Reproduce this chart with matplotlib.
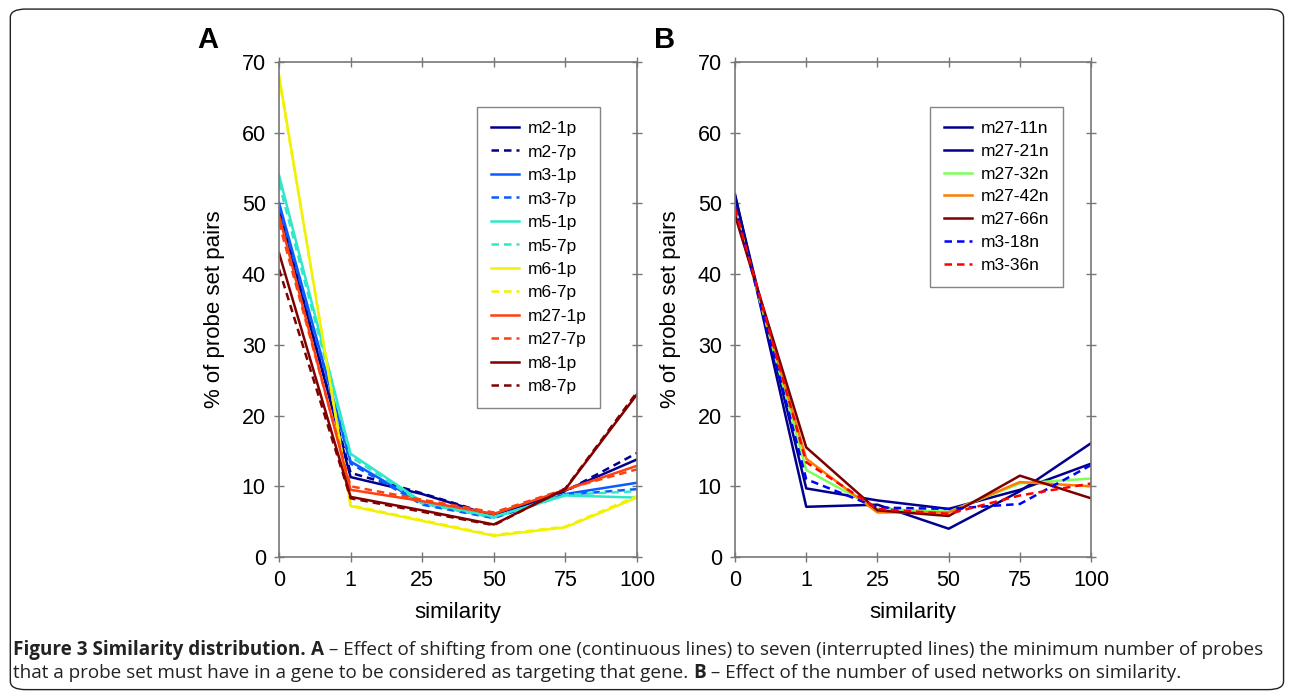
import matplotlib
matplotlib.use("Agg")
import matplotlib.pyplot as plt
from matplotlib.patches import FancyBboxPatch

plt.rcParams["font.family"] = ["Liberation Sans", "DejaVu Sans"]

similarity = ["0", "1", "25", "50", "75", "100"]

# panel A: one probe (solid) vs seven probes (dashed)
labels_a = ["m2-1p", "m2-7p", "m3-1p", "m3-7p", "m5-1p", "m5-7p",
            "m6-1p", "m6-7p", "m27-1p", "m27-7p", "m8-1p", "m8-7p"]
m2_1p = [49.3, 11.3, 8.9, 5.8, 9.4, 13.8]
m2_7p = [48.8, 11.9, 9.0, 5.9, 9.3, 14.7]
m3_1p = [50.1, 13.5, 7.6, 5.6, 8.9, 10.5]
m3_7p = [49.6, 13.2, 7.4, 5.5, 8.8, 9.6]
m5_1p = [54.0, 14.6, 7.8, 5.7, 8.7, 8.4]
m5_7p = [52.9, 14.2, 7.6, 5.6, 8.8, 9.3]
m6_1p = [68.1, 7.2, 5.1, 3.0, 4.2, 8.4]
m6_7p = [67.8, 7.3, 5.2, 3.1, 4.3, 8.6]
m27_1p = [48.3, 9.5, 7.9, 6.1, 9.5, 12.9]
m27_7p = [47.3, 10.0, 8.1, 6.3, 9.6, 12.4]
m8_1p = [43.0, 8.5, 6.6, 4.6, 9.6, 23.0]
m8_7p = [40.7, 8.3, 6.4, 4.5, 9.7, 23.3]
colors_a = ["#00008c", "#00008c", "#0a5cff", "#0a5cff", "#2ee8c8", "#2ee8c8",
            "#f2f200", "#f2f200", "#ff4010", "#ff4010", "#800000", "#800000"]

# panel B: number of networks
labels_b = ["m27-11n", "m27-21n", "m27-32n", "m27-42n", "m27-66n", "m3-18n", "m3-36n"]
m27_11n = [51.3, 7.1, 7.4, 4.0, 9.3, 16.1]
m27_21n = [51.0, 9.7, 8.0, 6.8, 9.5, 13.2]
m27_32n = [49.1, 12.3, 6.8, 6.4, 10.4, 11.1]
m27_42n = [48.6, 13.9, 6.3, 6.3, 10.6, 10.0]
m27_66n = [48.3, 15.5, 6.6, 5.8, 11.5, 8.3]
m3_18n = [49.6, 11.0, 7.0, 6.8, 7.5, 13.0]
m3_36n = [49.3, 13.4, 6.8, 6.1, 8.7, 10.4]
colors_b = ["#00008c", "#00008c", "#7dff5a", "#ff7a00", "#7a0000", "#0000ff", "#ff0000"]
styles_b = ["-", "-", "-", "-", "-", "--", "--"]

series_a = [m2_1p, m2_7p, m3_1p, m3_7p, m5_1p, m5_7p,
            m6_1p, m6_7p, m27_1p, m27_7p, m8_1p, m8_7p]
styles_a = ["-", "--"] * 6
series_b = [m27_11n, m27_21n, m27_32n, m27_42n, m27_66n, m3_18n, m3_36n]

fig = plt.figure(figsize=(12.9, 6.98), dpi=100)

def style_axes(ax, letter):
    ax.set_xlim(0, 5)
    ax.set_ylim(0, 70)
    ax.set_xticks(range(len(similarity)))
    ax.set_xticklabels(similarity)
    ax.set_yticks(range(0, 71, 10))
    ax.tick_params(direction="inout", length=7, width=1, color="#777777",
                   labelsize=15.5, top=True, right=True, pad=6)
    for s in ax.spines.values():
        s.set_color("#777777")
        s.set_linewidth(1.2)
    ax.set_xlabel("similarity", fontsize=16, labelpad=8)
    ax.set_ylabel("% of probe set pairs", fontsize=16, labelpad=12)
    ax.text(-0.228, 1.044, letter, transform=ax.transAxes, fontsize=21,
            fontweight="bold", ha="left", va="center")

def make_legend(ax, loc, spacing):
    leg = ax.legend(loc="upper left", bbox_to_anchor=loc, fontsize=12.5,
                    frameon=True, fancybox=False, handlelength=1.6,
                    handletextpad=0.5, labelspacing=spacing, borderpad=0.8,
                    borderaxespad=0)
    leg.get_frame().set_edgecolor("#666666")
    leg.get_frame().set_linewidth(1.0)

x = list(range(len(similarity)))

ax1 = fig.add_axes([0.2163, 0.2020, 0.2775, 0.7092])
for vals, c, ls, lab in zip(series_a, colors_a, styles_a, labels_a):
    ax1.plot(x, vals, color=c, ls=ls, lw=1.8, label=lab, dashes=(3, 2) if ls == "--" else (None, None))
style_axes(ax1, "A")
make_legend(ax1, (0.553, 0.909), 0.48)

ax2 = fig.add_axes([0.5698, 0.2020, 0.2760, 0.7092])
for vals, c, ls, lab in zip(series_b, colors_b, styles_b, labels_b):
    ax2.plot(x, vals, color=c, ls=ls, lw=1.8, label=lab, dashes=(3, 2) if ls == "--" else (None, None))
style_axes(ax2, "B")
make_legend(ax2, (0.548, 0.909), 0.44)

# figure frame
frame = FancyBboxPatch((0.008, 0.012), 0.987, 0.975, boxstyle="round,pad=0,rounding_size=0.012",
                       transform=fig.transFigure, fill=False, ec="#222222", lw=1.0)
fig.patches.append(frame)

# caption with mixed bold / regular runs
cap_font = ["Open Sans", "DejaVu Sans"]
line1 = [("Figure 3 Similarity distribution. ", "bold", "#222222"),
         ("A", "bold", "#222222"),
         (" \u2013 Effect of shifting from one (continuous lines) to seven (interrupted lines) the minimum number of probes", "normal", "#222222")]
line2 = [("that a probe set must have in a gene to be considered as targeting that gene. ", "normal", "#222222"),
         ("B", "bold", "#222222"),
         (" \u2013 Effect of the number of used networks on similarity.", "normal", "#222222")]

fig.canvas.draw()
renderer = fig.canvas.get_renderer()
for line, ypix in [(line1, 650), (line2, 673)]:
    xpix = 13
    for txt, w, c in line:
        t = fig.text(xpix / 1290, 1 - ypix / 698, txt, fontsize=13.6, fontweight=w,
                     color=c, family=cap_font, ha="left", va="center")
        bb = t.get_window_extent(renderer)
        xpix += bb.width

fig.savefig("out.png", dpi=100)
